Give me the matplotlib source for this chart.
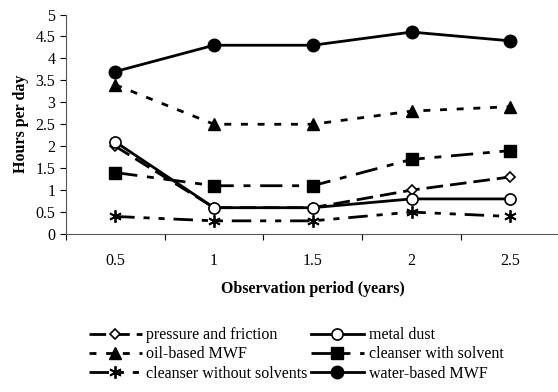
import matplotlib.pyplot as plt

plt.rcParams['font.family'] = ['Liberation Serif', 'DejaVu Serif']

# observation periods (years) and hours per day for each exposure
periods = ['0.5', '1', '1.5', '2', '2.5']
pressure_friction = [2.0, 0.6, 0.6, 1.0, 1.3]
metal_dust = [2.1, 0.6, 0.6, 0.8, 0.8]
oil_mwf = [3.4, 2.5, 2.5, 2.8, 2.9]
cleanser_solvent = [1.4, 1.1, 1.1, 1.7, 1.9]
cleanser_no_solvent = [0.4, 0.3, 0.3, 0.5, 0.4]
water_mwf = [3.7, 4.3, 4.3, 4.6, 4.4]

fig = plt.figure(figsize=(5.58, 3.92), dpi=100)
ax = fig.add_axes([0.118, 0.403, 0.885, 0.56])

x = list(range(len(periods)))
lw = 2.0
ms = 7
fs = 11.5

l1, = ax.plot(x, pressure_friction, color='black', lw=lw, ls=(0, (6, 2.5)),
              marker='D', ms=5.5, mfc='white', mec='black', mew=1.2,
              label='pressure and friction')
l2, = ax.plot(x, oil_mwf, color='black', lw=lw, ls=(0, (2.5, 3.5)),
              marker='^', ms=ms + 2, mfc='black', mec='black',
              label='oil-based MWF')
l3, = ax.plot(x, cleanser_no_solvent, color='black', lw=lw,
              ls=(0, (7, 3.2, 2.2, 3.2, 2.2, 3.2)),
              marker=(6, 2, 0), ms=ms + 2, mec='black', mew=1.3,
              label='cleanser without solvents')
l4, = ax.plot(x, metal_dust, color='black', lw=lw, ls='-',
              marker='o', ms=ms + 1, mfc='white', mec='black', mew=1.2,
              label='metal dust')
l5, = ax.plot(x, cleanser_solvent, color='black', lw=lw,
              ls=(0, (8, 3.5, 2.5, 3.5)),
              marker='s', ms=ms + 1.5, mfc='black', mec='black',
              label='cleanser with solvent')
l6, = ax.plot(x, water_mwf, color='black', lw=lw, ls='-',
              marker='o', ms=ms + 2, mfc='black', mec='black',
              label='water-based MWF')

ax.set_xlim(-0.5, len(periods) - 0.5)
ax.set_ylim(0, 5)
ax.set_yticks([i * 0.5 for i in range(11)])
ax.set_yticklabels(['0', '0.5', '1', '1.5', '2', '2.5', '3', '3.5', '4', '4.5', '5'])
ax.set_xticks([i - 0.5 for i in range(len(periods) + 1)])
ax.set_xticklabels([])
ax.set_xticks(x, minor=True)
ax.set_xticklabels(periods, minor=True)
ax.tick_params(axis='x', which='major', direction='out', length=4, width=0.8)
ax.tick_params(axis='x', which='minor', length=0, pad=14, labelsize=fs)
ax.tick_params(axis='y', direction='out', length=4, width=0.8, labelsize=fs)

for s in ['top', 'right']:
    ax.spines[s].set_visible(False)
ax.spines['left'].set_color('#555555')
ax.spines['bottom'].set_color('#555555')

ax.set_ylabel('Hours per day', fontweight='bold', fontsize=fs, labelpad=5)
ax.set_xlabel('Observation period (years)', fontweight='bold', fontsize=fs,
              labelpad=8)

fig.legend(handles=[l1, l2, l3, l4, l5, l6], loc='lower left',
           bbox_to_anchor=(0.148, 0.01), ncol=2, frameon=False,
           fontsize=fs, handlelength=3.3, handletextpad=0.3,
           columnspacing=0.2, labelspacing=0.2, borderaxespad=0)

fig.savefig('out.png', dpi=100)
